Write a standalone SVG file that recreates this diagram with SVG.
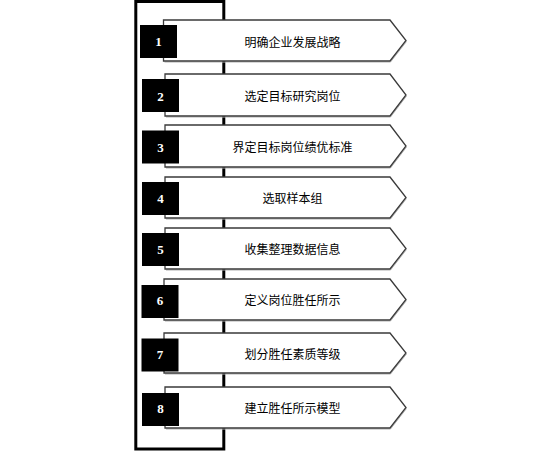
<svg xmlns="http://www.w3.org/2000/svg" width="557" height="451" viewBox="0 0 557 451">
<style>
.frame{fill:none;stroke:#000;stroke-width:3}
.box{fill:#fff;stroke:#3a3a3a;stroke-width:1.3;stroke-linejoin:miter}
.shadow{fill:none;stroke:#b0b0b0;stroke-width:1}
.sq{fill:#000}
.num{font-family:"Liberation Serif","Times New Roman",serif;font-weight:bold;font-size:13px;fill:#fff;text-anchor:middle}
.lbl{font-family:"Noto Sans CJK SC","Liberation Sans",sans-serif;font-size:12px;fill:#000;text-anchor:middle}
</style>
<rect width="557" height="451" fill="#fff"/>
<g id="frame">
<rect class="frame" x="135.8" y="1.5" width="88" height="447.5"/>
</g>
<g id="connectors"/>
<g id="node1">
<path class="shadow" d="M164.5 62 H390.5 L406.5 41.5"/>
<path class="box" d="M163.5 20 H390 L406 40.5 L390 61 H163.5 Z"/>
<rect class="sq" x="140" y="25" width="37" height="33"/>
<text class="num" x="158.5" y="46">1</text>
<text class="lbl" x="292.5" y="46.5">明确企业发展战略</text>
</g>
<g id="node2">
<path class="shadow" d="M166 117 H390.5 L406.5 96"/>
<path class="box" d="M165 74 H390 L406 95 L390 116 H165 Z"/>
<rect class="sq" x="142" y="79" width="37" height="33"/>
<text class="num" x="160.5" y="100.5">2</text>
<text class="lbl" x="292.5" y="100.5">选定目标研究岗位</text>
</g>
<g id="node3">
<path class="shadow" d="M166 168 H390.5 L406.5 147"/>
<path class="box" d="M165 125 H390 L406 146 L390 167 H165 Z"/>
<rect class="sq" x="142" y="130.5" width="37" height="33"/>
<text class="num" x="160.5" y="151.5">3</text>
<text class="lbl" x="292.5" y="151.5">界定目标岗位绩优标准</text>
</g>
<g id="node4">
<path class="shadow" d="M166 219 H390.5 L406.5 198.5"/>
<path class="box" d="M165 177 H390 L406 197.5 L390 218 H165 Z"/>
<rect class="sq" x="142" y="182" width="37" height="33"/>
<text class="num" x="160.5" y="203">4</text>
<text class="lbl" x="292.5" y="203">选取样本组</text>
</g>
<g id="node5">
<path class="shadow" d="M166 270 H390.5 L406.5 249.5"/>
<path class="box" d="M165 228 H390 L406 248.5 L390 269 H165 Z"/>
<rect class="sq" x="142" y="233" width="37" height="33"/>
<text class="num" x="160.5" y="254">5</text>
<text class="lbl" x="292.5" y="254">收集整理数据信息</text>
</g>
<g id="node6">
<path class="shadow" d="M165 321 H390.5 L406.5 300.5"/>
<path class="box" d="M164 279 H390 L406 299.5 L390 320 H164 Z"/>
<rect class="sq" x="141.5" y="285" width="37" height="33"/>
<text class="num" x="160" y="305">6</text>
<text class="lbl" x="292.5" y="305">定义岗位胜任所示</text>
</g>
<g id="node7">
<path class="shadow" d="M165 374 H390.5 L406.5 354"/>
<path class="box" d="M164 333 H390 L406 353 L390 373 H164 Z"/>
<rect class="sq" x="141.5" y="338.5" width="37" height="33"/>
<text class="num" x="160" y="358.5">7</text>
<text class="lbl" x="292.5" y="358.5">划分胜任素质等级</text>
</g>
<g id="node8">
<path class="shadow" d="M166 429 H390.5 L406.5 408.5"/>
<path class="box" d="M165 387 H390 L406 407.5 L390 428 H165 Z"/>
<rect class="sq" x="142" y="393" width="37" height="33"/>
<text class="num" x="160.5" y="413">8</text>
<text class="lbl" x="292.5" y="413">建立胜任所示模型</text>
</g>
</svg>
